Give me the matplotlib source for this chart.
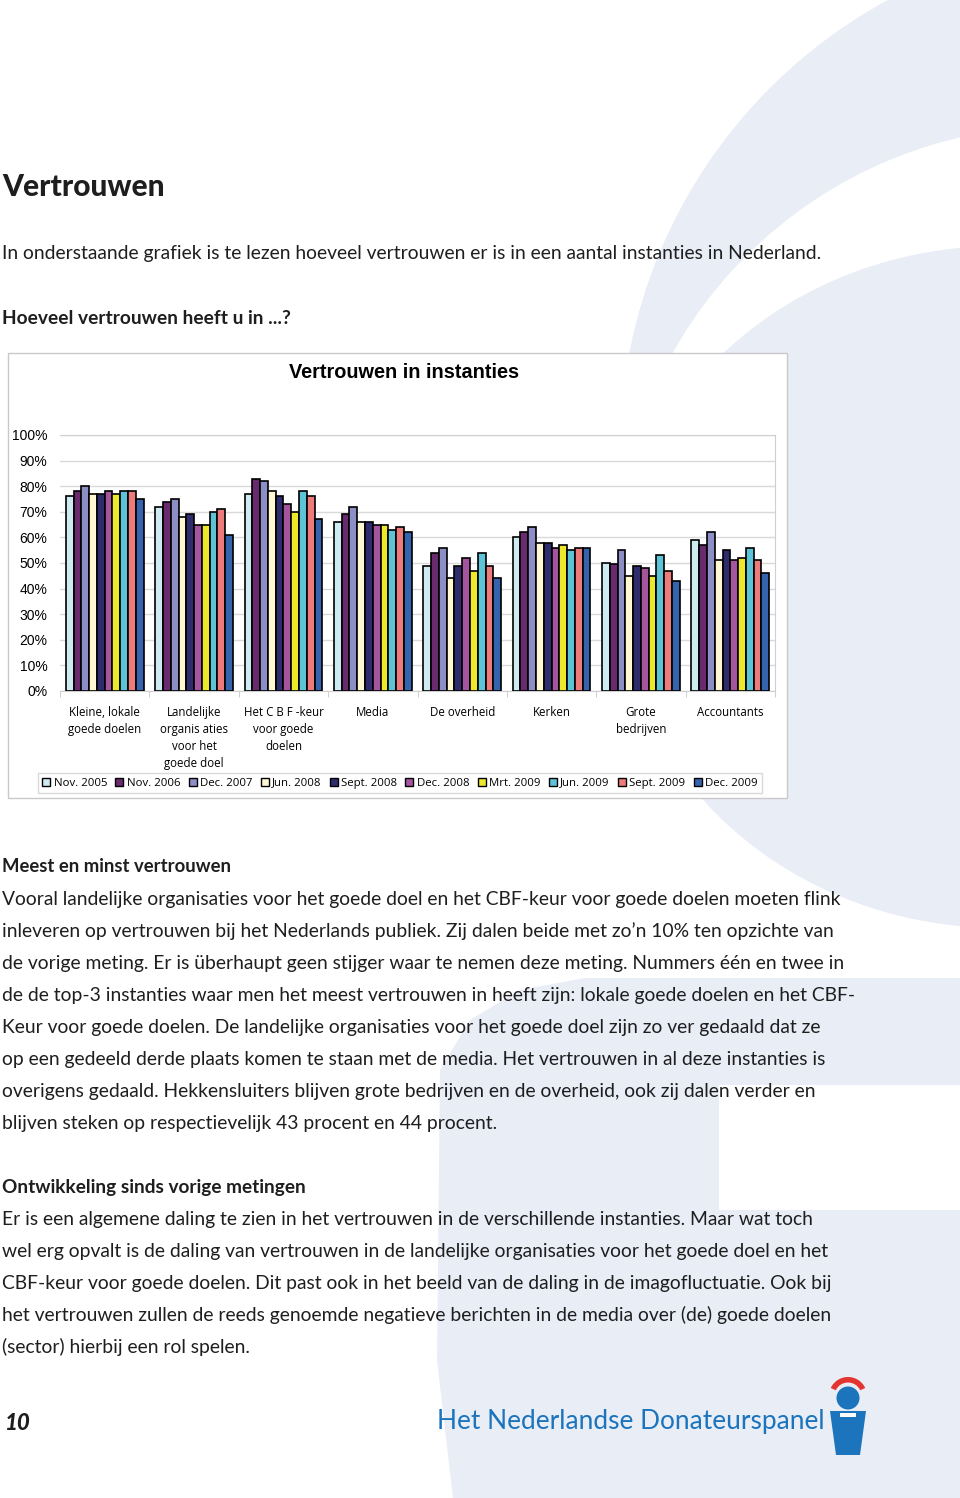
import numpy as np
import matplotlib.pyplot as plt
from matplotlib.patches import Rectangle, Circle, Polygon, Ellipse, Wedge

# data
categories = ["Kleine, lokale\ngoede doelen", "Landelijke\norganis aties\nvoor het\ngoede doel",
              "Het C B F -keur\nvoor goede\ndoelen", "Media", "De overheid", "Kerken",
              "Grote\nbedrijven", "Accountants"]
series = ["Nov. 2005", "Nov. 2006", "Dec. 2007", "Jun. 2008", "Sept. 2008",
          "Dec. 2008", "Mrt. 2009", "Jun. 2009", "Sept. 2009", "Dec. 2009"]
colors = ["#CDEBF0", "#6A2A6E", "#8E8EC6", "#FFF8D2", "#2E2C6C",
          "#A4559E", "#EEE82C", "#5CC4D6", "#EE7B7B", "#3563AE"]
values = np.array([
    [76, 78, 80, 77, 77, 78, 77, 78, 78, 75],    # Kleine, lokale goede doelen
    [72, 74, 75, 68, 69, 65, 65, 70, 71, 61],    # Landelijke organisaties
    [77, 83, 82, 78, 76, 73, 70, 78, 76, 67],    # CBF-keur
    [66, 69, 72, 66, 66, 65, 65, 63, 64, 62],    # Media
    [49, 54, 56, 44, 49, 52, 47, 54, 49, 44],    # De overheid
    [60, 62, 64, 58, 58, 56, 57, 55, 56, 56],    # Kerken
    [50, 49.5, 55, 45, 49, 48, 45, 53, 47, 43],  # Grote bedrijven
    [59, 57, 62, 51, 55, 51, 52, 56, 51, 46],    # Accountants
])
yticks = [0, 10, 20, 30, 40, 50, 60, 70, 80, 90, 100]

para1 = ["Vooral landelijke organisaties voor het goede doel en het CBF-keur voor goede doelen moeten flink",
         "inleveren op vertrouwen bij het Nederlands publiek. Zij dalen beide met zo\u2019n 10% ten opzichte van",
         "de vorige meting. Er is \u00fcberhaupt geen stijger waar te nemen deze meting. Nummers \u00e9\u00e9n en twee in",
         "de de top-3 instanties waar men het meest vertrouwen in heeft zijn: lokale goede doelen en het CBF-",
         "Keur voor goede doelen. De landelijke organisaties voor het goede doel zijn zo ver gedaald dat ze",
         "op een gedeeld derde plaats komen te staan met de media. Het vertrouwen in al deze instanties is",
         "overigens gedaald. Hekkensluiters blijven grote bedrijven en de overheid, ook zij dalen verder en",
         "blijven steken op respectievelijk 43 procent en 44 procent."]
para2 = ["Er is een algemene daling te zien in het vertrouwen in de verschillende instanties. Maar wat toch",
         "wel erg opvalt is de daling van vertrouwen in de landelijke organisaties voor het goede doel en het",
         "CBF-keur voor goede doelen. Dit past ook in het beeld van de daling in de imagofluctuatie. Ook bij",
         "het vertrouwen zullen de reeds genoemde negatieve berichten in de media over (de) goede doelen",
         "(sector) hierbij een rol spelen."]

W, H = 960, 1498
fig = plt.figure(figsize=(W / 100, H / 100), dpi=100)

# page layer in pixel coordinates (y down)
bg = fig.add_axes([0, 0, 1, 1], zorder=0)
bg.set_xlim(0, W)
bg.set_ylim(H, 0)
bg.axis("off")

# big faded logo in the background
light = "#E9EDF6"
bg.add_patch(Circle((1132, 450), 512, color=light, lw=0))
bg.add_patch(Circle((1060, 570), 444, color="white", lw=0))
bg.add_patch(Ellipse((1000, 587), 760, 682, color=light, lw=0))
bg.add_patch(Polygon([(960, 978), (585, 978), (520, 990), (470, 1020), (440, 1070),
                      (437, 1360), (453, 1498), (960, 1498)], color=light, lw=0))
bg.add_patch(Rectangle((719, 1085), 260, 125, color="white", lw=0))

# chart frame
bg.add_patch(Rectangle((8, 353), 779, 445, facecolor="white", edgecolor="#C9C9C9", lw=1))

txt = "#1E1E1E"
body = "Lato"
fs = 13.85
bg.text(2, 187, "Vertrouwen", fontsize=21.5, fontweight="black", family=body, color=txt, va="center")
bg.text(2, 253, "In onderstaande grafiek is te lezen hoeveel vertrouwen er is in een aantal instanties in Nederland.",
        fontsize=fs, family=body, color=txt, va="center")
bg.text(2, 318, "Hoeveel vertrouwen heeft u in ...?", fontsize=13.8, fontweight="bold",
        family=body, color=txt, va="center")
bg.text(404, 373, "Vertrouwen in instanties", fontsize=14.3, fontweight="bold",
        family="Liberation Sans", color="black", va="center", ha="center")

bg.text(2, 867, "Meest en minst vertrouwen", fontsize=13.3, fontweight="bold", family=body,
        color=txt, va="center")
for i, line in enumerate(para1):
    bg.text(2, 899 + 32 * i, line, fontsize=fs, family=body, color=txt, va="center")
bg.text(2, 1187, "Ontwikkeling sinds vorige metingen", fontsize=13.7, fontweight="bold",
        family=body, color=txt, va="center")
for i, line in enumerate(para2):
    bg.text(2, 1219 + 32 * i, line, fontsize=fs, family=body, color=txt, va="center")

# footer
bg.text(5, 1423, "10", fontsize=16, fontweight="black", style="italic", family=body,
        color=txt, va="center")
blue = "#1B74BC"
bg.text(437, 1422, "Het Nederlandse Donateurspanel", fontsize=18.9, family=body,
        color=blue, va="center")
bg.add_patch(Wedge((848, 1396), 19, 205, 335, width=5.5, color="#E3342F", lw=0))
bg.add_patch(Circle((848, 1398), 11.5, color=blue, lw=0))
bg.add_patch(Polygon([(830, 1411), (866, 1411), (860, 1455), (836, 1455)], color=blue, lw=0))
bg.add_patch(Rectangle((840, 1413), 16, 3.5, color="white", lw=0))

# chart
ax = fig.add_axes([60 / W, 1 - 691 / H, 715 / W, 256 / H], zorder=1)
n = len(series)
bw = 0.087
x = np.arange(len(categories))
for j in range(n):
    ax.bar(x + (j - (n - 1) / 2) * bw, values[:, j], bw, color=colors[j],
           edgecolor="black", lw=1.2, label=series[j], zorder=3)

ax.set_xlim(-0.5, len(categories) - 0.5)
ax.set_ylim(0, 100)
ax.set_yticks(yticks)
ax.set_yticklabels([f"{v}%" for v in yticks], family="Liberation Sans", fontsize=10)
ax.tick_params(axis="y", length=0, pad=9)
ax.set_xticks(x)
ax.set_xticklabels(categories, family="Open Sans", fontsize=8.3, linespacing=1.38)
ax.tick_params(axis="x", length=0, pad=11)
ax.set_xticks(np.arange(-0.5, len(categories)), minor=True)
ax.tick_params(axis="x", which="minor", length=4, color="#C8C8C8")
ax.grid(axis="y", color="#D9D9D9", lw=1, zorder=0)
for s in ax.spines.values():
    s.set_color("#D0D0D0")
ax.spines["left"].set_visible(False)

leg = fig.legend(loc="center", bbox_to_anchor=(400 / W, 1 - 783 / H), ncol=n,
                 prop={"family": "Open Sans", "size": 8.2}, frameon=True, fancybox=False,
                 handlelength=0.7, handleheight=0.7, handletextpad=0.3, columnspacing=0.72,
                 borderpad=0.4, edgecolor="#D0D0D0")
leg.get_frame().set_linewidth(1)
for h in leg.legend_handles:
    h.set_linewidth(1)

fig.savefig("out.png", dpi=100)
